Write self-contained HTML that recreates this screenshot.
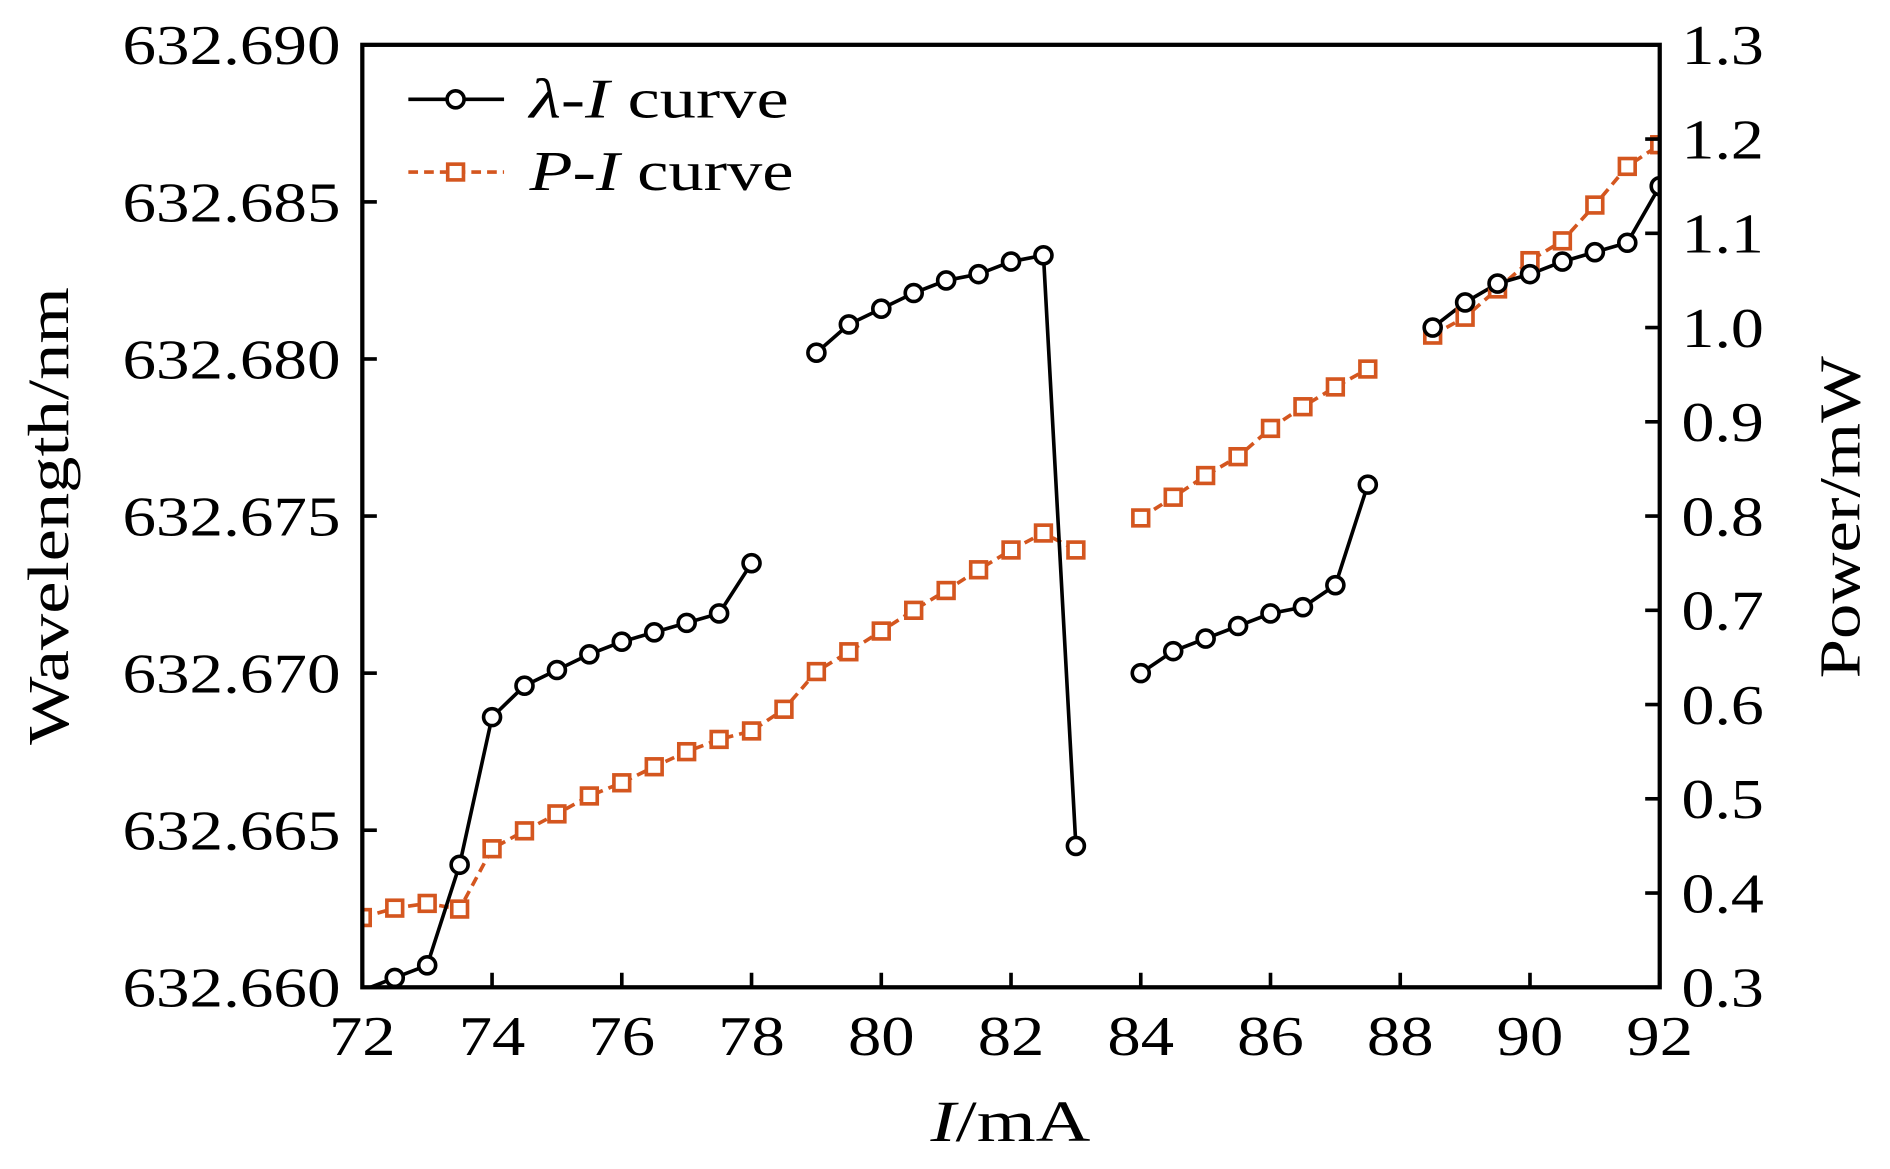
<!DOCTYPE html>
<html><head><meta charset="utf-8"><style>
html,body{margin:0;padding:0;background:#fff;}
svg{display:block;}
text{font-family:"Liberation Serif",serif;fill:#000;}
</style></head><body>
<svg id="chart" width="1890" height="1169" viewBox="0 0 1560 965" xmlns="http://www.w3.org/2000/svg">
<defs><clipPath id="pc"><rect x="299" y="37" width="1071" height="778"/></clipPath></defs>
<g id="plot" clip-path="url(#pc)"></g>
<g id="axes"></g>
</svg>
<script>
const currents = [72,72.5,73,73.5,74,74.5,75,75.5,76,76.5,77,77.5,78,78.5,79,79.5,80,80.5,81,81.5,82,82.5,83,83.5,84,84.5,85,85.5,86,86.5,87,87.5,88,88.5,89,89.5,90,90.5,91,91.5,92];
const wavelength = [632.6599,632.6603,632.6607,632.6639,632.6686,632.6696,632.6701,632.6706,632.6710,632.6713,632.6716,632.6719,632.6735,null,632.6802,632.6811,632.6816,632.6821,632.6825,632.6827,632.6831,632.6833,632.6645,null,632.6700,632.6707,632.6711,632.6715,632.6719,632.6721,632.6728,632.6760,null,632.6810,632.6818,632.6824,632.6827,632.6831,632.6834,632.6837,632.6855];
const power = [0.374,0.384,0.389,0.383,0.447,0.466,0.484,0.503,0.517,0.534,0.550,0.563,0.572,0.595,0.635,0.656,0.678,0.700,0.721,0.743,0.764,0.782,0.764,null,0.798,0.820,0.843,0.863,0.893,0.916,0.937,0.956,null,0.992,1.011,1.041,1.071,1.092,1.130,1.171,1.194];
const xTicks = [72,74,76,78,80,82,84,86,88,90,92];
const leftTicks = ["632.660","632.665","632.670","632.675","632.680","632.685","632.690"];
const rightTicks = ["0.3","0.4","0.5","0.6","0.7","0.8","0.9","1.0","1.1","1.2","1.3"];

const NS="http://www.w3.org/2000/svg";
const L=299,R=1370,T=37,B=815;
const xs=v=>L+(v-72)/20*(R-L);
const yl=v=>B-(v-632.660)/0.030*(B-T);
const yr=v=>B-(v-0.3)/1.0*(B-T);
const plot=document.getElementById('plot'), axes=document.getElementById('axes');
function mk(tag,attrs,parent){const e=document.createElementNS(NS,tag);for(const k in attrs)e.setAttribute(k,attrs[k]);parent.appendChild(e);return e;}
function series(vals,yf,color,dash,name){
  let d="",pen=false;
  vals.forEach((v,i)=>{if(v===null){pen=false;return;}d+=(pen?"L":"M")+xs(currents[i])+" "+yf(v)+" ";pen=true;});
  const p=mk('path',{d:d,fill:'none',stroke:color,'stroke-width':3,'stroke-dasharray':dash},plot);
  
  
}
series(power,yr,'#d4561f','8 5','p-i');
series(wavelength,yl,'#000','none','lambda-i');
power.forEach((v,i)=>{if(v===null)return;
  const r=mk('rect',{x:xs(currents[i])-6.5,y:yr(v)-6.5,width:13,height:13,fill:'#fff',stroke:'#d4561f','stroke-width':3},plot);
  
  
});
wavelength.forEach((v,i)=>{if(v===null||i===0)return;
  const c=mk('circle',{cx:xs(currents[i]),cy:yl(v),r:7,fill:'#fff',stroke:'#000','stroke-width':3},plot);
  
  
});
const fr=mk('rect',{x:L,y:T,width:R-L,height:B-T,fill:'none',stroke:'#000','stroke-width':3.5},axes);


xTicks.forEach(v=>{
  mk('line',{x1:xs(v),x2:xs(v),y1:B,y2:B-12,stroke:'#000','stroke-width':3},axes);
  const t=mk('text',{x:xs(v),y:B+56,'text-anchor':'middle','font-size':46,textLength:55,lengthAdjust:'spacingAndGlyphs'},axes);t.textContent=v;
  
  
});
leftTicks.forEach((s,i)=>{const y=B-i*(B-T)/6;
  mk('line',{x1:L,x2:L+12,y1:y,y2:y,stroke:'#000','stroke-width':3},axes);
  const t=mk('text',{x:L-18,y:y+16,'text-anchor':'end','font-size':46,textLength:180,lengthAdjust:'spacingAndGlyphs'},axes);t.textContent=s;
  
  
});
rightTicks.forEach((s,i)=>{const y=B-i*(B-T)/10;
  mk('line',{x1:R,x2:R-12,y1:y,y2:y,stroke:'#000','stroke-width':3},axes);
  const t=mk('text',{x:R+18,y:y+16,'text-anchor':'start','font-size':46,textLength:68,lengthAdjust:'spacingAndGlyphs'},axes);t.textContent=s;
  
  
});
</script>
<svg style="position:absolute;left:0;top:0" width="1890" height="1169" viewBox="0 0 1560 965" xmlns="http://www.w3.org/2000/svg">
<g>
<line x1="337" y1="82" x2="416" y2="82" stroke="#000" stroke-width="3"/>
<circle cx="376" cy="82" r="7" fill="#fff" stroke="#000" stroke-width="3"/>
<text x="437" y="97" font-size="46" textLength="214" lengthAdjust="spacingAndGlyphs"><tspan font-style="italic">λ</tspan>-<tspan font-style="italic">I</tspan> curve</text>
<line x1="337" y1="142" x2="416" y2="142" stroke="#d4561f" stroke-width="3" stroke-dasharray="8 5"/>
<rect x="369.5" y="135.5" width="13" height="13" fill="#fff" stroke="#d4561f" stroke-width="3"/>
<text x="437" y="157" font-size="46" textLength="218" lengthAdjust="spacingAndGlyphs"><tspan font-style="italic">P</tspan>-<tspan font-style="italic">I</tspan> curve</text>
</g>
<text x="834" y="942" font-size="48" text-anchor="middle" textLength="132" lengthAdjust="spacingAndGlyphs"><tspan font-style="italic">I</tspan>/mA</text>
<text transform="translate(56,426) rotate(-90)" font-size="48" text-anchor="middle" textLength="378" lengthAdjust="spacingAndGlyphs">Wavelength/nm</text>
<text transform="translate(1535,427) rotate(-90)" font-size="48" text-anchor="middle" textLength="266" lengthAdjust="spacingAndGlyphs">Power/mW</text>
</svg>
</body></html>
